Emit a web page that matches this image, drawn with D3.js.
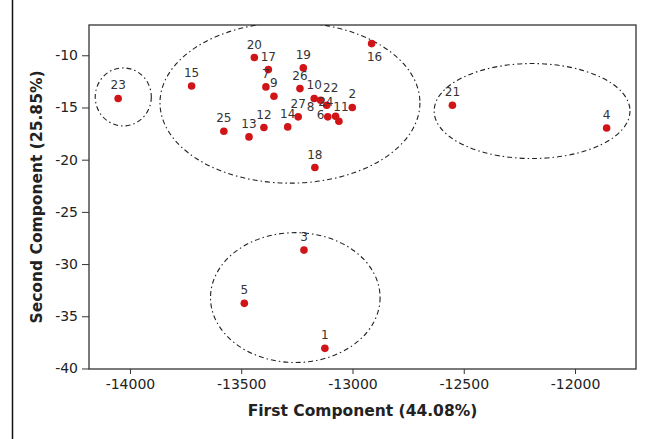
<!DOCTYPE html>
<html><head><meta charset="utf-8">
<script src="https://cdn.jsdelivr.net/npm/d3@7"></script>
<style>body{margin:0;background:#fff}svg{display:block}</style>
</head><body>
<svg id="chart" width="653" height="439"></svg>
<script>
// ---- data ----
const sampleIds   = [1,2,3,4,5,6,7,8,9,10,11,12,13,14,15,16,17,18,19,20,21,22,23,24,25,26,27];
const firstComp   = [-13124,-13001,-13218,-11858,-13486,-13076,-13389,-13143,-13353,-13172,-13061,-13398,-13465,-13291,-13723,-12914,-13378,-13169,-13221,-13441,-12551,-13116,-14053,-13111,-13578,-13236,-13244];
const secondComp  = [-38.07,-15.0,-28.66,-16.96,-33.76,-15.84,-13.03,-14.31,-13.92,-14.14,-16.32,-16.92,-17.82,-16.86,-12.94,-8.88,-11.37,-20.75,-11.21,-10.22,-14.78,-14.78,-14.14,-15.90,-17.27,-13.19,-15.90];
const xTicks = [-14000,-13500,-13000,-12500,-12000];
const yTicks = [-10,-15,-20,-25,-30,-35,-40];
// cluster ellipses (data units)
const clusterCx = [-13281,-14030,-12193,-13257];
const clusterCy = [-14.55,-13.99,-15.34,-33.21];
const clusterRx = [584,126,440,381];
const clusterRy = [7.70,2.78,4.55,6.22];
const xTitle = "First Component (44.08%)";
const yTitle = "Second Component (25.85%)";

// ---- layout ----
const L = 89, R = 636, T = 25, B = 369;
const svg = d3.select("#chart");
const x = d3.scaleLinear().domain([-14184,-11726]).range([L,R]);
const y = d3.scaleLinear().domain([-40.05,-7.1]).range([B,T]);

// label nudges (style only)
const labelNudge = {16:{dx:3,dy:17}, 8:{dx:-10,dy:10.5}, 6:{dx:-15,dy:2.5}, 22:{dx:4,dy:-13}, 24:{dx:-2,dy:-11}, 11:{dx:2,dy:-10}};

// left page rule
svg.append("line").attr("x1",12.5).attr("x2",12.5).attr("y1",0).attr("y2",439)
  .attr("stroke","#111").attr("stroke-width",1.5);

svg.append("defs").append("clipPath").attr("id","plotclip")
  .append("rect").attr("x",L).attr("y",T).attr("width",R-L).attr("height",B-T);

// axes
const xAxis = svg.append("g").attr("transform",`translate(0,${B})`)
  .call(d3.axisBottom(x).tickValues(xTicks).tickSize(5).tickPadding(5).tickFormat(d3.format("d")));
const yAxis = svg.append("g").attr("transform",`translate(${L},0)`)
  .call(d3.axisLeft(y).tickValues(yTicks).tickSize(7).tickPadding(4).tickFormat(d3.format("d")));
[xAxis,yAxis].forEach(g=>{
  g.select(".domain").remove();
  g.selectAll(".tick line").attr("stroke","#333");
  g.selectAll(".tick text").attr("fill","#222").style("font-family","DejaVu Sans").style("font-size","14px")
   .text(d=>String(d));
});

// frame
svg.append("rect").attr("x",L).attr("y",T).attr("width",R-L).attr("height",B-T)
  .attr("fill","none").attr("stroke","#333").attr("stroke-width",1.3);

// ellipses
svg.append("g").attr("clip-path","url(#plotclip)").selectAll("ellipse")
  .data(clusterCx.map((cx,i)=>({cx,cy:clusterCy[i],rx:clusterRx[i],ry:clusterRy[i]})))
  .join("ellipse")
  .attr("cx",d=>x(d.cx)).attr("cy",d=>y(d.cy))
  .attr("rx",d=>Math.abs(x(d.cx+d.rx)-x(d.cx)))
  .attr("ry",d=>Math.abs(y(d.cy+d.ry)-y(d.cy)))
  .attr("fill","none").attr("stroke","#222").attr("stroke-width",1.1)
  .attr("stroke-dasharray","5,3,1.5,3");

const pts = sampleIds.map((id,i)=>({id,fx:firstComp[i],sy:secondComp[i]}));

// points
svg.append("g").selectAll("circle").data(pts).join("circle")
  .attr("cx",d=>x(d.fx)).attr("cy",d=>y(d.sy)).attr("r",3.8)
  .attr("fill","#d01418");

// labels
svg.append("g").selectAll("text").data(pts).join("text")
  .attr("x",d=>x(d.fx)+((labelNudge[d.id]||{}).dx||0))
  .attr("y",d=>y(d.sy)+((labelNudge[d.id]||{}).dy ?? -9))
  .attr("text-anchor","middle")
  .style("font-family","DejaVu Sans").style("font-size","12px").attr("fill","#333")
  .text(d=>d.id);

// titles
svg.append("text").attr("x",(L+R)/2).attr("y",416).attr("text-anchor","middle")
  .style("font-family","DejaVu Sans").style("font-weight","bold").style("font-size","15.5px").attr("fill","#222")
  .text(xTitle);
svg.append("text").attr("transform",`translate(42,${(T+B)/2}) rotate(-90)`).attr("text-anchor","middle")
  .style("font-family","DejaVu Sans").style("font-weight","bold").style("font-size","15.5px").attr("fill","#222")
  .text(yTitle);
</script>
</body></html>
